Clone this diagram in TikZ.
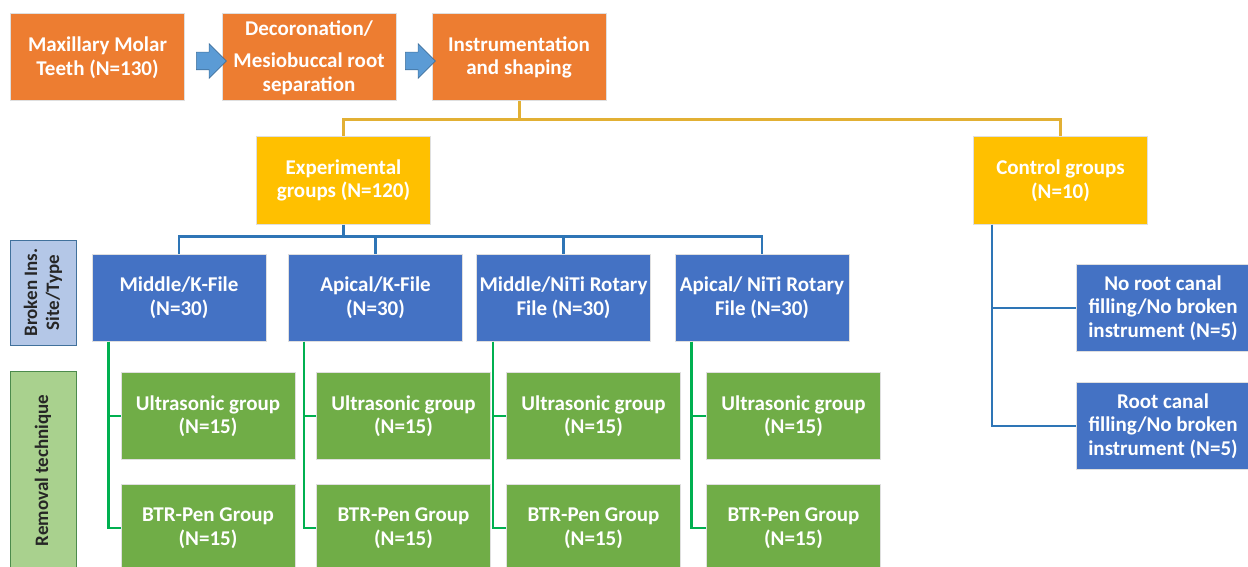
\documentclass[tikz,border=0pt]{standalone}
\usepackage{fontspec}
\setmainfont{Carlito}
\usetikzlibrary{shapes.arrows}

\definecolor{orangebox}{RGB}{237,125,49}
\definecolor{goldbox}{RGB}{255,192,0}
\definecolor{bluebox}{RGB}{68,114,196}
\definecolor{greenbox}{RGB}{112,173,71}
\definecolor{arrowblue}{RGB}{91,155,213}
\definecolor{arrowedge}{RGB}{65,113,156}
\definecolor{goldline}{RGB}{226,176,52}
\definecolor{blueline}{RGB}{46,117,182}
\definecolor{greenline}{RGB}{0,176,80}
\definecolor{labelblue}{RGB}{180,199,231}
\definecolor{labelgreen}{RGB}{169,209,142}

\tikzset{
  box/.style={draw=gray!25, line width=1pt, text=white, align=center,
    font=\bfseries\fontsize{21}{23.5}\selectfont,
    minimum width=174pt, minimum height=87pt, inner sep=1pt},
  sidelabel/.style={rotate=90, line width=1pt, text=black!85, align=center,
    font=\bfseries\fontsize{19}{22}\selectfont, inner sep=1pt},
  blockarrow/.style={single arrow, draw=arrowedge, fill=arrowblue, line width=0.6pt,
    minimum height=30pt, minimum width=34pt, inner xsep=0pt, inner ysep=8.5pt,
    single arrow head extend=8.5pt},
  goldconn/.style={draw=goldline, line width=3pt},
  blueconn/.style={draw=blueline, line width=2.6pt},
  greenconn/.style={draw=greenline, line width=2.4pt},
}

\begin{document}
\begin{tikzpicture}[x=1pt,y=1pt,yscale=-1]
  \useasboundingbox (0,0) rectangle (1248,567);

  %Top row
  \node[box, fill=orangebox] (molar) at (97.5,57.5) {Maxillary Molar\\Teeth (N=130)};
  \node[box, fill=orangebox] (decor) at (309,57.5) {Decoronation/\\[9pt]Mesiobuccal root\\separation};
  \node[box, fill=orangebox] (instr) at (519,57.5) {Instrumentation\\and shaping};
  \node[blockarrow] (arr1) at (207,61) {};
  \node[blockarrow] (arr2) at (416,61) {};

  %Groups
  \node[box, fill=goldbox] (expg) at (343.5,180.5) {Experimental\\groups (N=120)};
  \node[box, fill=goldbox] (ctrl) at (1060.5,180.5) {Control groups\\(N=10)};

  %Side labels
  \node[sidelabel, draw=arrowedge, fill=labelblue, minimum width=105pt, minimum height=66pt] (site) at (43,292.5) {Broken Ins.\\Site/Type};
  \node[sidelabel, draw=green!35!black!70, fill=labelgreen, minimum width=199pt, minimum height=66pt] (removal) at (43,470.5) {Removal technique};

  %Broken instrument site/type
  \node[box, fill=bluebox] (midk) at (179,297.5) {Middle/K-File\\(N=30)};
  \node[box, fill=bluebox] (apik) at (375.5,297.5) {Apical/K-File\\(N=30)};
  \node[box, fill=bluebox] (midn) at (563.5,297.5) {Middle/NiTi Rotary\\File (N=30)};
  \node[box, fill=bluebox] (apin) at (762,297.5) {Apical/ NiTi Rotary\\File (N=30)};

  %Removal technique
  \node[box, fill=greenbox] (usa) at (208,416) {Ultrasonic group\\(N=15)};
  \node[box, fill=greenbox] (usb) at (403.5,416) {Ultrasonic group\\(N=15)};
  \node[box, fill=greenbox] (usc) at (593.5,416) {Ultrasonic group\\(N=15)};
  \node[box, fill=greenbox] (usd) at (793.5,416) {Ultrasonic group\\(N=15)};
  \node[box, fill=greenbox] (btra) at (208,528) {BTR-Pen Group\\(N=15)};
  \node[box, fill=greenbox] (btrb) at (403.5,528) {BTR-Pen Group\\(N=15)};
  \node[box, fill=greenbox] (btrc) at (593.5,528) {BTR-Pen Group\\(N=15)};
  \node[box, fill=greenbox] (btrd) at (793.5,528) {BTR-Pen Group\\(N=15)};

  %Control subgroups
  \node[box, fill=bluebox] (nofill) at (1163,308) {No root canal\\filling/No broken\\instrument (N=5)};
  \node[box, fill=bluebox] (fill) at (1163,426) {Root canal\\filling/No broken\\instrument (N=5)};

  %Gold connectors
  \draw[goldconn] (instr.south) -- ++(0,18) coordinate (gsplit) -| (expg.north);
  \draw[goldconn] (gsplit) -| (ctrl.north);

  %Blue connectors
  \draw[blueconn] (expg.south) -- ++(0,12) coordinate (bsplit) -| (midk.north);
  \draw[blueconn] (bsplit) -| (apik.north);
  \draw[blueconn] (bsplit) -| (midn.north);
  \draw[blueconn] (bsplit) -| (apin.north);
  \draw[blueconn] ([xshift=19pt]ctrl.south west) |- (nofill.west);
  \draw[blueconn] ([xshift=19pt]ctrl.south west) |- (fill.west);

  %Green connectors
  \draw[greenconn] ([xshift=17pt]midk.south west) |- (usa.west);
  \draw[greenconn] ([xshift=17pt]midk.south west) |- (btra.west);
  \draw[greenconn] ([xshift=16pt]apik.south west) |- (usb.west);
  \draw[greenconn] ([xshift=16pt]apik.south west) |- (btrb.west);
  \draw[greenconn] ([xshift=17pt]midn.south west) |- (usc.west);
  \draw[greenconn] ([xshift=17pt]midn.south west) |- (btrc.west);
  \draw[greenconn] ([xshift=17pt]apin.south west) |- (usd.west);
  \draw[greenconn] ([xshift=17pt]apin.south west) |- (btrd.west);
\end{tikzpicture}
\end{document}
